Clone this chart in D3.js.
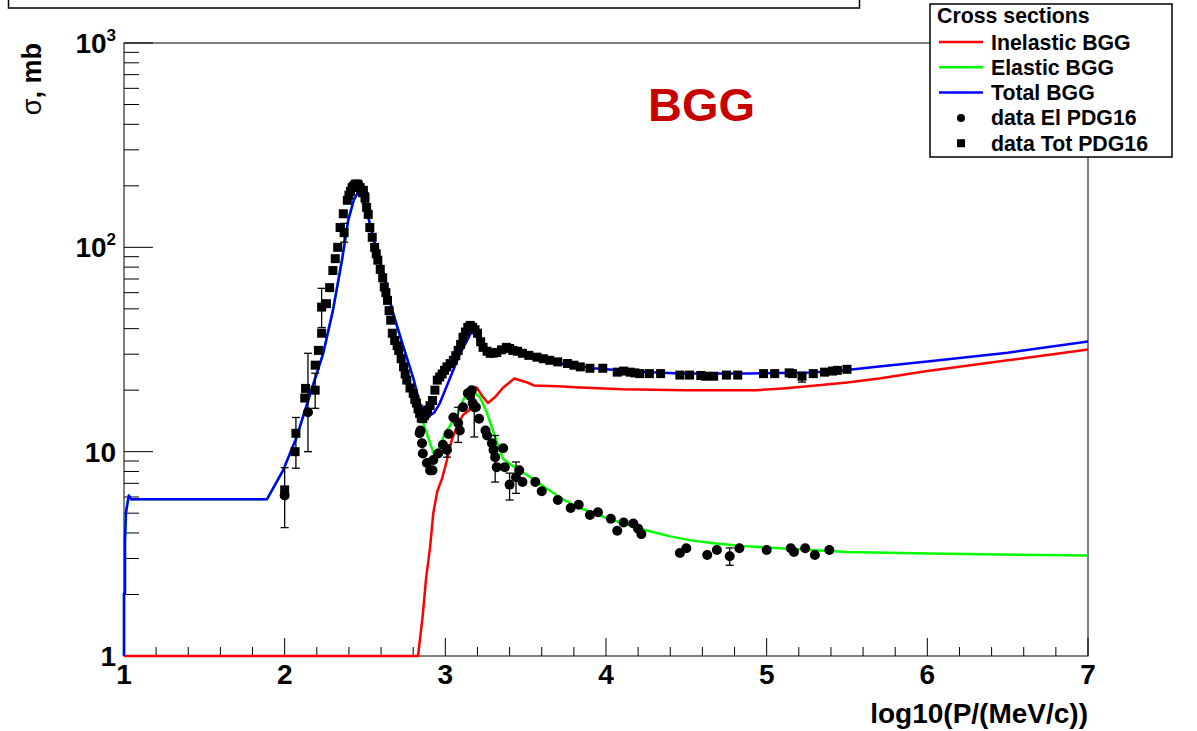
<!DOCTYPE html>
<html>
<head>
<meta charset="utf-8">
<script src="https://cdn.jsdelivr.net/npm/d3@7"></script>
<style>
  html, body { margin: 0; padding: 0; background: #fff; }
  svg { display: block; }
  text { font-family: "Liberation Sans", Arial, Helvetica, sans-serif; font-weight: bold; }
</style>
</head>
<body>
<svg id="chart" width="1197" height="731"></svg>
<script>
// ---- Model curves: [log10(P/(MeV/c)), sigma in mb] ----
const inelasticBGG = [
  [1.0, 1.0], [2.83, 1.0], [2.86, 1.6], [2.88, 2.4], [2.905, 3.4], [2.925, 5.0], [2.95, 6.4], [2.98, 7.4],
  [3.01, 9.1], [3.04, 11.4], [3.08, 13.8], [3.11, 15.1], [3.15, 16.0], [3.18, 20.4], [3.195, 20.6],
  [3.235, 18.5], [3.265, 17.3], [3.31, 18.5], [3.36, 20.6], [3.43, 22.8], [3.51, 21.8], [3.55, 21.1],
  [3.7, 20.9], [3.84, 20.6], [4.1, 20.2], [4.5, 20.0], [4.94, 20.0], [5.1, 20.4], [5.29, 21.0],
  [5.50, 21.8], [5.70, 22.8], [6.0, 24.8], [6.5, 28.0], [7.0, 31.6]
];

const elasticBGG = [
  [1.0, 1.0], [1.0, 2.03], [1.006, 2.03], [1.006, 3.7], [1.012, 5.0], [1.02, 5.5], [1.03, 6.1],
  [1.045, 5.85], [1.89, 5.85], [1.99, 8.1], [2.075, 11.8], [2.16, 19.3], [2.24, 30.3], [2.30, 49],
  [2.356, 86], [2.395, 135], [2.43, 170], [2.455, 185], [2.48, 180], [2.50, 164], [2.55, 112],
  [2.61, 77], [2.67, 49], [2.74, 32.4], [2.80, 23], [2.84, 17.0], [2.86, 14.0], [2.935, 9.4],
  [2.998, 12.3], [3.08, 15.4], [3.11, 17.8], [3.15, 20.4], [3.215, 18.5], [3.26, 15.4], [3.31, 11.8],
  [3.36, 9.2], [3.43, 8.4], [3.53, 7.5], [3.63, 6.6], [3.74, 5.8], [3.84, 5.3], [4.0, 4.75],
  [4.13, 4.4], [4.26, 4.1], [4.4, 3.85], [4.53, 3.68], [4.67, 3.56], [4.85, 3.45], [5.08, 3.37],
  [5.50, 3.23], [6.0, 3.17], [7.0, 3.10]
];

const totalBGG = [
  [1.0, 1.0], [1.0, 2.03], [1.006, 2.03], [1.006, 3.7], [1.012, 5.0], [1.02, 5.5], [1.03, 6.1],
  [1.045, 5.85], [1.89, 5.85], [1.99, 8.1], [2.075, 11.8], [2.16, 19.3], [2.24, 30.3], [2.30, 49],
  [2.356, 86], [2.395, 135], [2.43, 170], [2.455, 185], [2.48, 180], [2.50, 164], [2.55, 112],
  [2.61, 77], [2.67, 49], [2.74, 32.4], [2.80, 23], [2.84, 17.3], [2.885, 14.7], [2.93, 15.5],
  [2.966, 17.3], [3.03, 23], [3.09, 30], [3.14, 35.5], [3.165, 39], [3.19, 37], [3.22, 33],
  [3.26, 30.5], [3.32, 30.5], [3.40, 31.5], [3.48, 30], [3.60, 28], [3.75, 26.8], [3.92, 25.6],
  [4.2, 24.6], [4.46, 24.1], [4.88, 24.1], [5.29, 24.4], [5.50, 25.1], [5.70, 26.1], [6.0, 27.6],
  [6.5, 30.5], [7.0, 34.6]
];

// ---- PDG16 measurements: [log10(P), sigma, error down, error up] ----
const dataTotPDG16 = [
  [2.00, 6.5], [2.065, 10.0], [2.07, 12.3, 4.0, 2.4], [2.125, 18.3], [2.13, 20.4], [2.19, 20.0, 3.7, 4.2],
  [2.19, 26.5], [2.21, 31.3], [2.23, 38], [2.23, 51, 10.5, 12], [2.26, 53], [2.28, 63.5], [2.30, 77],
  [2.315, 88], [2.33, 100], [2.345, 125], [2.365, 146], [2.37, 118, 12, 13], [2.39, 170], [2.40, 180],
  [2.41, 188], [2.42, 196], [2.43, 200], [2.44, 204], [2.445, 198], [2.455, 204], [2.46, 200],
  [2.47, 196], [2.475, 190], [2.485, 185], [2.49, 190], [2.50, 175, 10, 10], [2.51, 157], [2.52, 145],
  [2.53, 125], [2.545, 112], [2.56, 100], [2.57, 93], [2.58, 86.5], [2.595, 78], [2.61, 71], [2.62, 64],
  [2.63, 60], [2.64, 55], [2.65, 49], [2.66, 44], [2.67, 38], [2.685, 35], [2.70, 33], [2.71, 31.3],
  [2.725, 28.5], [2.74, 26], [2.75, 24], [2.76, 22.4], [2.78, 20.5], [2.80, 19.3], [2.81, 18],
  [2.82, 17.3], [2.83, 16.2], [2.84, 15.4], [2.85, 14.6], [2.86, 14.5], [2.87, 15.0], [2.88, 15.4],
  [2.89, 16.0], [2.905, 16.8], [2.92, 17.8], [2.935, 20], [2.95, 22.4], [2.965, 23.2], [2.98, 24],
  [2.995, 25], [3.01, 26], [3.03, 27], [3.05, 28], [3.065, 29.5], [3.08, 31.3], [3.095, 33.5],
  [3.11, 36.3], [3.125, 38.5], [3.14, 40.6], [3.155, 41.5], [3.17, 40.6], [3.185, 39.5], [3.20, 38],
  [3.22, 34.5], [3.235, 32.4], [3.26, 31], [3.28, 30.3], [3.30, 30.4], [3.32, 30.6], [3.35, 31.5],
  [3.38, 32.4], [3.40, 32], [3.42, 31.3], [3.45, 31.0], [3.48, 30.3], [3.52, 29.6], [3.57, 29],
  [3.61, 28.5], [3.65, 28], [3.70, 27.5], [3.76, 27], [3.80, 26.5], [3.84, 26], [3.90, 25.6],
  [3.98, 25.6], [4.07, 24.5], [4.11, 24.8], [4.15, 24.5], [4.18, 24.3], [4.21, 24.1], [4.27, 24.1],
  [4.34, 24.1], [4.46, 23.7], [4.52, 23.7], [4.59, 23.6], [4.62, 23.4], [4.67, 23.4], [4.75, 23.7],
  [4.82, 23.7], [4.98, 24.1], [5.05, 24.1], [5.14, 24.3], [5.16, 24.1], [5.22, 23.4, 1.5, 0.5],
  [5.29, 24.1], [5.36, 24.5], [5.41, 24.8], [5.44, 25], [5.50, 25.3]
];

const dataElPDG16 = [
  [2.00, 6.1, 1.85, 2.25], [2.145, 15.6, 5.6, 14.7], [2.84, 12.3], [2.845, 12.7], [2.855, 11.0],
  [2.86, 9.8], [2.885, 8.8], [2.905, 8.1], [2.92, 8.1], [2.925, 9.1], [2.955, 9.8], [2.985, 10.8],
  [3.01, 10.2, 0.8, 0.6], [3.02, 12.2], [3.05, 14.7], [3.08, 13.8, 2.7, 2.7], [3.09, 12.7], [3.11, 16.5],
  [3.14, 19.3], [3.155, 18.8], [3.165, 20.0], [3.17, 17.3], [3.18, 16.5, 4.7, 0.5], [3.19, 16.5],
  [3.21, 14.5], [3.25, 12.7], [3.26, 12.0], [3.29, 11.0], [3.30, 10.2], [3.31, 9.4, 2.3, 2.6],
  [3.32, 8.4], [3.36, 10.4], [3.37, 8.4], [3.40, 6.9, 1.1, 0.95], [3.44, 7.5, 1.25, 1.4], [3.46, 8.1],
  [3.48, 7.1], [3.56, 7.1], [3.60, 6.4], [3.70, 5.8], [3.78, 5.3], [3.83, 5.5], [3.90, 4.9],
  [3.95, 5.05], [4.03, 4.7], [4.07, 4.1], [4.11, 4.5], [4.17, 4.45], [4.20, 4.2], [4.22, 3.95],
  [4.46, 3.19], [4.50, 3.37], [4.63, 3.12], [4.69, 3.3], [4.77, 3.08, 0.3, 0.3], [4.83, 3.37],
  [5.00, 3.3], [5.15, 3.37], [5.17, 3.23], [5.24, 3.37], [5.30, 3.12], [5.39, 3.3]
];

// ---- Axis ticks and labels ----
const xTickValues = [1, 2, 3, 4, 5, 6, 7];
const yDecades = [1, 10, 100, 1000];
const yTickLabels = [["1", ""], ["10", ""], ["10", "2"], ["10", "3"]];

const legendEntries = [
  { label: "Inelastic BGG", kind: "line", color: "#ff0000" },
  { label: "Elastic BGG", kind: "line", color: "#00ff00" },
  { label: "Total BGG", kind: "line", color: "#0000ff" },
  { label: "data El PDG16", kind: "circle" },
  { label: "data Tot PDG16", kind: "square" }
];

// ---- Layout ----
const frame = { left: 124, right: 1088, top: 43, bottom: 656 };
const svg = d3.select("#chart");

const x = d3.scaleLinear().domain([1, 7]).range([frame.left, frame.right]);
const y = d3.scaleLog().domain([1, 1000]).range([frame.bottom, frame.top]);

// Title box (its text sits above the visible page)
svg.append("rect").attr("x", 8.5).attr("y", -20).attr("width", 851).attr("height", 28)
  .attr("fill", "#fff").attr("stroke", "#000").attr("stroke-width", 1.5);

// Frame
svg.append("rect")
  .attr("x", frame.left).attr("y", frame.top)
  .attr("width", frame.right - frame.left).attr("height", frame.bottom - frame.top)
  .attr("fill", "none").attr("stroke", "#000").attr("stroke-width", 1);

// X axis ticks (inside, pointing up)
const xMajorLen = 18, xMinorLen = 9;
const xMinor = d3.range(1, 7.0001, 0.2).map(v => +v.toFixed(2)).filter(v => !xTickValues.includes(v));
const axisG = svg.append("g").attr("stroke", "#000").attr("stroke-width", 1);
xTickValues.forEach(v => {
  axisG.append("line").attr("x1", x(v)).attr("x2", x(v))
    .attr("y1", frame.bottom).attr("y2", frame.bottom - xMajorLen);
});
xMinor.forEach(v => {
  axisG.append("line").attr("x1", x(v)).attr("x2", x(v))
    .attr("y1", frame.bottom).attr("y2", frame.bottom - xMinorLen);
});

// Y axis ticks (inside, pointing right)
const yMajorLen = 29, yMinorLen = 15;
yDecades.forEach(d => {
  axisG.append("line").attr("x1", frame.left).attr("x2", frame.left + yMajorLen)
    .attr("y1", y(d)).attr("y2", y(d));
});
y.ticks().filter(t => !yDecades.includes(t)).forEach(t => {
  axisG.append("line").attr("x1", frame.left).attr("x2", frame.left + yMinorLen)
    .attr("y1", y(t)).attr("y2", y(t));
});

// Tick labels
svg.append("g").selectAll("text").data(xTickValues).join("text")
  .attr("x", d => x(d)).attr("y", 684)
  .attr("text-anchor", "middle").attr("font-size", 28)
  .text(d => d);

const yl = svg.append("g");
yDecades.forEach((d, i) => {
  const [base, sup] = yTickLabels[i];
  const t = yl.append("text").attr("x", 116).attr("y", y(d) + 10)
    .attr("text-anchor", "end").attr("font-size", 28);
  t.append("tspan").text(base);
  if (sup) t.append("tspan").attr("dy", -12).attr("font-size", 17).text(sup);
});

// Axis titles
svg.append("text").attr("x", frame.right).attr("y", 723)
  .attr("text-anchor", "end").attr("font-size", 28)
  .text("log10(P/(MeV/c))");

const yt = svg.append("text")
  .attr("transform", `translate(41,${frame.top}) rotate(-90)`)
  .attr("text-anchor", "end").attr("font-size", 27);
yt.append("tspan").attr("font-weight", "normal").text("σ");
yt.append("tspan").text(", mb");

// Curves
const line = d3.line().x(d => x(d[0])).y(d => y(d[1]));
const curves = [
  { data: inelasticBGG, color: "#ff0000" },
  { data: elasticBGG, color: "#00ff00" },
  { data: totalBGG, color: "#0000ff" }
];
curves.forEach(c => {
  svg.append("path").datum(c.data).attr("d", line)
    .attr("fill", "none").attr("stroke", c.color).attr("stroke-width", 2.5)
    .attr("stroke-linejoin", "round");
});

// Error bars with caps
function drawErrors(data) {
  const g = svg.append("g").attr("stroke", "#000").attr("stroke-width", 1.3);
  data.filter(d => d.length > 2).forEach(d => {
    const cx = x(d[0]);
    const y0 = y(d[1] - d[2]), y1 = y(d[1] + d[3]);
    g.append("line").attr("x1", cx).attr("x2", cx).attr("y1", y0).attr("y2", y1);
    g.append("line").attr("x1", cx - 4).attr("x2", cx + 4).attr("y1", y0).attr("y2", y0);
    g.append("line").attr("x1", cx - 4).attr("x2", cx + 4).attr("y1", y1).attr("y2", y1);
  });
}
drawErrors(dataTotPDG16);
drawErrors(dataElPDG16);

// Markers
const sq = 9;
svg.append("g").selectAll("rect").data(dataTotPDG16).join("rect")
  .attr("x", d => x(d[0]) - sq / 2).attr("y", d => y(d[1]) - sq / 2)
  .attr("width", sq).attr("height", sq).attr("fill", "#000");
svg.append("g").selectAll("circle").data(dataElPDG16).join("circle")
  .attr("cx", d => x(d[0])).attr("cy", d => y(d[1])).attr("r", 5).attr("fill", "#000");

// Model label
svg.append("text").attr("x", 648).attr("y", 121).attr("font-size", 47)
  .attr("fill", "#c80000").text("BGG");

// Legend
const lg = svg.append("g");
lg.append("rect").attr("x", 930).attr("y", 4).attr("width", 242).attr("height", 153)
  .attr("fill", "#fff").attr("stroke", "#000").attr("stroke-width", 1.5);
lg.append("text").attr("x", 937).attr("y", 23).attr("font-size", 21.3).text("Cross sections");
legendEntries.forEach((e, i) => {
  const cy = 42 + i * 25.3;
  if (e.kind === "line") {
    lg.append("line").attr("x1", 939).attr("x2", 983).attr("y1", cy).attr("y2", cy)
      .attr("stroke", e.color).attr("stroke-width", 2.5);
  } else if (e.kind === "circle") {
    lg.append("circle").attr("cx", 961).attr("cy", cy).attr("r", 4).attr("fill", "#000");
  } else {
    lg.append("rect").attr("x", 957).attr("y", cy - 4).attr("width", 8).attr("height", 8).attr("fill", "#000");
  }
  lg.append("text").attr("x", 991).attr("y", cy + 7.5).attr("font-size", 21.3).text(e.label);
});
</script>
</body>
</html>
